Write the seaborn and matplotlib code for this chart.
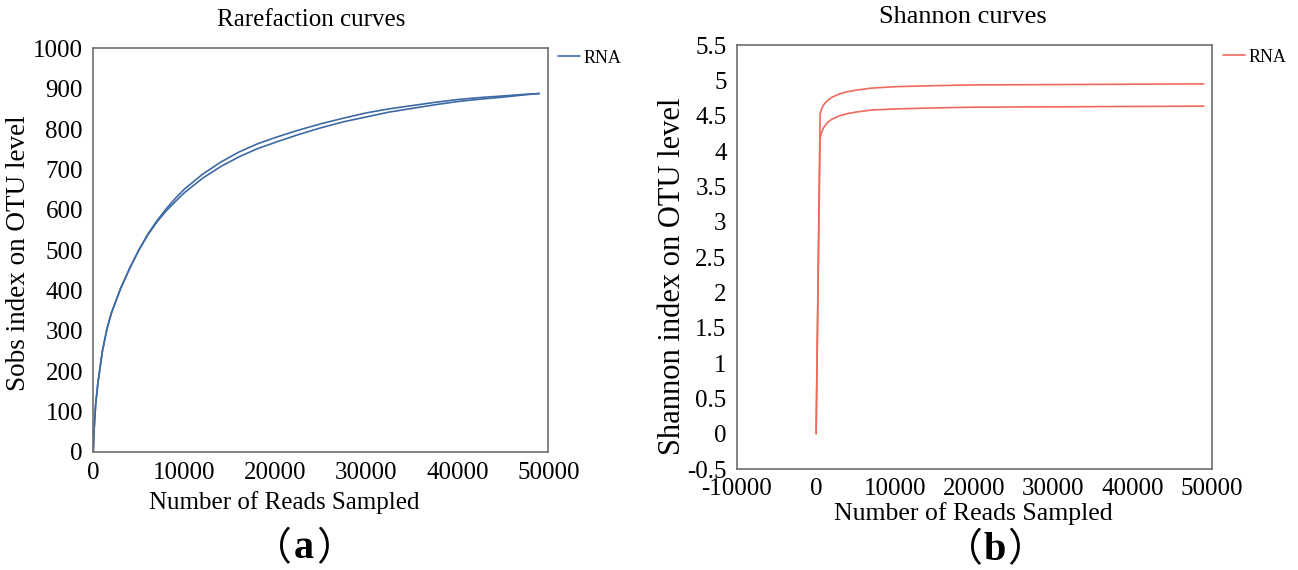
import numpy as np
import pandas as pd
import matplotlib
matplotlib.use("Agg")
import matplotlib.pyplot as plt
import seaborn as sns

# ---------------- data ----------------
rare_x = [0, 100, 250, 500, 1000, 1500, 2000, 3000, 4000, 5000, 6000, 7000, 8000, 9000,
          10000, 12000, 14000, 16000, 18000, 20000, 22500, 25000, 27500, 30000, 32500,
          35000, 37500, 40000, 42500, 45000, 47500, 49000]
rare_s1 = [0, 60, 115, 170, 250, 305, 345, 405, 455, 500, 540, 573, 602, 628,
           651, 688, 718, 743, 763, 779, 797, 813, 827, 840, 850,
           858, 866, 873, 878, 882, 886, 888]
rare_s2 = [0, 60, 115, 170, 250, 305, 345, 405, 455, 500, 538, 570, 597, 620,
           642, 678, 707, 731, 751, 767, 786, 803, 818, 830, 842,
           851, 860, 868, 874, 879, 885, 888]

shan_x = [0, 500, 700, 1000, 1500, 2000, 3000, 4000, 5000, 7000, 10000, 15000,
          20000, 30000, 40000, 49000]
shan_s1 = [0, 4.52, 4.60, 4.66, 4.72, 4.76, 4.81, 4.84, 4.86, 4.89, 4.91, 4.925,
           4.935, 4.94, 4.945, 4.95]
shan_s2 = [0, 4.18, 4.27, 4.34, 4.41, 4.45, 4.50, 4.53, 4.55, 4.58, 4.595, 4.61,
           4.62, 4.625, 4.63, 4.635]

rare_xticks = [0, 10000, 20000, 30000, 40000, 50000]
rare_yticks = list(range(0, 1001, 100))
shan_xticks = [-10000, 0, 10000, 20000, 30000, 40000, 50000]
shan_yticks = [-0.5, 0, 0.5, 1, 1.5, 2, 2.5, 3, 3.5, 4, 4.5, 5, 5.5]

legend_label = "RNA"

# ---------------- style ----------------
sns.set_theme(style="white")
plt.rcParams['font.family'] = ['Liberation Serif', 'Noto Sans CJK SC', 'DejaVu Sans']
plt.rcParams['axes.unicode_minus'] = False
plt.rcParams['text.color'] = 'black'
plt.rcParams['axes.labelcolor'] = 'black'
plt.rcParams['xtick.color'] = 'black'
plt.rcParams['ytick.color'] = 'black'

W, H = 1298, 570
fig = plt.figure(figsize=(W / 100, H / 100), dpi=100)

def px_axes(l, t, r, b):
    return fig.add_axes([l / W, 1 - b / H, (r - l) / W, (b - t) / H])

ax1 = px_axes(93.3, 48.3, 548.3, 452)
ax2 = px_axes(737, 45, 1211.7, 469)

blue = "#3d6aa5"
red = "#ee6a5c"
spine_col = "#6e6e6e"

df1 = pd.DataFrame({"x": rare_x * 2, "y": rare_s1 + rare_s2,
                    "s": ["s1"] * len(rare_x) + ["s2"] * len(rare_x)})
df2 = pd.DataFrame({"x": shan_x * 2, "y": shan_s1 + shan_s2,
                    "s": ["s1"] * len(shan_x) + ["s2"] * len(shan_x)})

for ax, df, col in [(ax1, df1, blue), (ax2, df2, red)]:
    for i, (name, g) in enumerate(df.groupby("s")):
        sns.lineplot(data=g, x="x", y="y", ax=ax, color=col, lw=1.2,
                     estimator=None, sort=False,
                     label=legend_label if i == 0 else "_nolegend_")

def style_axes(ax, xticks, yticks, xlim, ylim, yfmt):
    ax.set_xlim(*xlim)
    ax.set_ylim(*ylim)
    ax.set_xticks(xticks)
    ax.set_yticks(yticks)
    ax.set_xticklabels([str(v) for v in xticks])
    ax.set_yticklabels([yfmt(v) for v in yticks])
    for s in ax.spines.values():
        s.set_visible(True)
        s.set_color(spine_col)
        s.set_linewidth(1.2)
    ax.tick_params(axis="both", direction="out", length=6, width=1.1,
                   color=spine_col, labelsize=18, labelcolor="black", pad=1.5)
    ax.grid(False)

style_axes(ax1, rare_xticks, rare_yticks, (0, 50000), (0, 1000), lambda v: f"{v:g}")
style_axes(ax2, shan_xticks, shan_yticks, (-10000, 50000), (-0.5, 5.5), lambda v: f"{v:g}")
ax2.tick_params(axis="x", pad=0.5)

# axis labels
ax1.set_xlabel("Number of Reads Sampled", fontsize=18)
ax1.set_ylabel("Sobs index on OTU level", fontsize=19.5)
ax2.set_xlabel("Number of Reads Sampled", fontsize=18.5)
ax2.set_ylabel("Shannon index on OTU level", fontsize=22)
ax1.xaxis.set_label_coords((284 - 93.3) / 455, -(503 - 452) / 403.7)
ax1.yaxis.set_label_coords((18 - 93.3) / 455, (452 - 253) / 403.7)
ax2.xaxis.set_label_coords((973 - 737) / 474.7, -(514 - 469) / 424)
ax2.yaxis.set_label_coords((672 - 737) / 474.7, (469 - 276) / 424)
for ax in (ax1, ax2):
    ax.xaxis.label.set_va("center")
    ax.yaxis.label.set_va("center")

# legends
for ax, xa, ya in [(ax1, (558 - 93.3) / 455, (452 - 58) / 403.7),
                   (ax2, (1223 - 737) / 474.7, (469 - 57) / 424)]:
    ax.legend(loc="center left", bbox_to_anchor=(xa, ya), frameon=False,
              fontsize=13, handlelength=1.2, handletextpad=0.2,
              borderpad=0, borderaxespad=0, labelcolor="black")

# titles and captions
fig.text(311 / W, 1 - 20 / H, "Rarefaction curves", ha="center", va="center", fontsize=18)
fig.text(963 / W, 1 - 17 / H, "Shannon curves", ha="center", va="center", fontsize=19)

def caption(xc, yc, letter):
    y = 1 - yc / H
    fig.text(xc / W, y, letter, ha="center", va="center", fontsize=29,
             fontweight="bold", family="Liberation Serif")
    fig.text((xc - 12) / W, y, "（", ha="right", va="center", fontsize=28,
             family="Noto Sans CJK SC")
    fig.text((xc + 12) / W, y, "）", ha="left", va="center", fontsize=28,
             family="Noto Sans CJK SC")

caption(304, 549, "a")
caption(995, 550, "b")

fig.savefig("out.png", dpi=100)
